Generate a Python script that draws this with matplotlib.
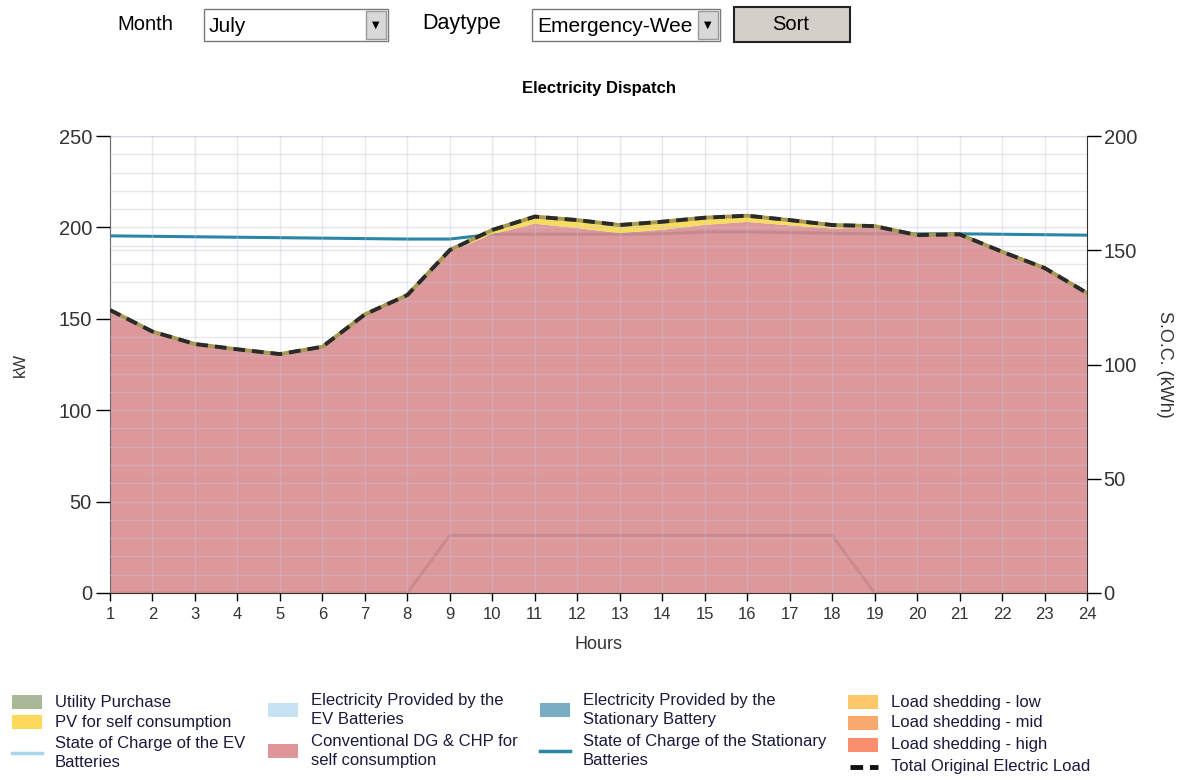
import numpy as np
import matplotlib
matplotlib.use('Agg')
from matplotlib import pyplot as plt
from matplotlib.patches import Rectangle
from matplotlib.lines import Line2D

plt.rcParams['font.family'] = ['Liberation Sans', 'DejaVu Sans']

# data
hours = list(range(1, 25))
total_load = [154.8, 143.0, 136.2, 133.3, 130.7, 134.7, 152.4, 163.0, 187.6, 198.6, 205.9, 204.0,
              201.3, 203.1, 205.3, 206.4, 204.0, 201.3, 200.7, 195.8, 196.2, 186.7, 177.8, 164.1]
dg_chp = [154.8, 143.0, 136.2, 133.3, 130.7, 134.7, 152.4, 163.0, 186.6, 196.3, 202.0, 199.6,
          196.9, 198.7, 201.4, 203.0, 201.1, 199.4, 199.8, 195.8, 196.2, 186.7, 177.8, 164.1]
pv = [0, 0, 0, 0, 0, 0, 0, 0, 1.0, 2.3, 3.9, 4.4, 4.4, 4.4, 3.9, 3.4, 2.9, 1.9, 0.9, 0, 0, 0, 0, 0]
utility = [0] * 24
ev_batt = [0] * 24
stat_batt = [0] * 24
shed_low = [0] * 24
shed_mid = [0] * 24
shed_high = [0] * 24
soc_ev = [0, 0, 0, 0, 0, 0, 0, 0, 25.2, 25.2, 25.2, 25.2, 25.2, 25.2, 25.2, 25.2, 25.2, 25.2,
          0, 0, 0, 0, 0, 0]
soc_stat = [156.3, 156.1, 155.9, 155.7, 155.5, 155.3, 155.1, 154.9, 154.9, 157.0, 157.0, 157.0,
            157.0, 157.2, 158.0, 158.0, 157.7, 157.4, 157.2, 157.2, 157.2, 157.0, 156.8, 156.6]

W, H = 1195, 780
fig = plt.figure(figsize=(W / 100, H / 100), dpi=100)

def fx(x):
    return x / W

def fy(y):
    return 1 - y / H

# axes: secondary (SOC) sits underneath the stacked areas
ax2 = fig.add_axes([fx(110), fy(593), fx(1087) - fx(110), fy(136) - fy(593)])
ax = fig.add_axes(ax2.get_position(), sharex=ax2)
ax2.yaxis.tick_right()
ax2.yaxis.set_label_position('right')
ax.patch.set_visible(False)
ax.set_zorder(ax2.get_zorder() + 1)

grid_col = '#c4c4d2'
ax2.plot(hours, soc_ev, color='#6f8595', lw=2.2)
ax2.plot(hours, soc_stat, color='#2a86a6', lw=2.2)
ax2.set_ylim(0, 200)
ax2.set_yticks([0, 50, 100, 150, 200])
ax2.grid(axis='y', color=grid_col, alpha=0.45, lw=1)
ax2.tick_params(axis='y', direction='out', length=10, width=1, labelsize=14.5,
                labelcolor='#333333', pad=2)
ax2.tick_params(axis='x', bottom=False, labelbottom=False)
ax2.set_ylabel('S.O.C. (kWh)', rotation=270, fontsize=13, labelpad=26, color='#333333')

layers = [utility, ev_batt, stat_batt, dg_chp, pv, shed_low, shed_mid, shed_high]
colors = ['#a9b897', '#c5e3f2', '#79adc4', '#d98a8e', '#f7d84a', '#fcc86a', '#f9a96b', '#f88e6c']
ax.stackplot(hours, layers, colors=colors, alpha=0.88, lw=0)
ax.plot(hours, total_load, color='#a79a55', lw=2.8, zorder=3)
ax.plot(hours, total_load, color='#2a2a2a', lw=2.8, ls=(0, (3, 1.8)), zorder=4)

ax.set_xlim(1, 24)
ax.set_ylim(0, 250)
ax.set_xticks(hours)
ax.set_yticks([0, 50, 100, 150, 200, 250])
ax.set_yticks(np.arange(0, 251, 10), minor=True)
ax.set_axisbelow(False)
ax.grid(which='both', color=grid_col, alpha=0.4, lw=1)
ax.tick_params(axis='y', which='minor', length=0)
ax.tick_params(axis='y', which='major', direction='out', length=10, width=1, labelsize=14.5,
               labelcolor='#333333', pad=3)
ax.tick_params(axis='x', direction='out', length=6, width=1, labelsize=12,
               labelcolor='#333333', pad=4)
ax.set_ylabel('kW', fontsize=12, labelpad=22, color='#333333')
ax.set_xlabel('Hours', fontsize=13, labelpad=10, color='#333333')
ax.set_title('Electricity Dispatch', fontsize=12, fontweight='bold', pad=31)

for a in (ax, ax2):
    a.spines['top'].set_visible(False)
    for s in ('left', 'right', 'bottom'):
        a.spines[s].set_color('#333333')
ax.spines['right'].set_visible(False)
ax2.spines['left'].set_visible(False)
ax2.spines['bottom'].set_visible(False)

# top controls
def box(x0, y0, x1, y1, fc, ec, lw=1.0, z=1):
    r = Rectangle((fx(x0), fy(y1)), fx(x1 - x0), (y1 - y0) / H,
                  transform=fig.transFigure, fc=fc, ec=ec, lw=lw, zorder=z)
    fig.add_artist(r)
    return r

fig.text(fx(145), fy(24), 'Month', ha='center', va='center', fontsize=14.5)
box(204, 9, 388, 41, 'white', '#7a7a7a')
box(366, 11, 386, 39, '#d8d8d8', '#9a9a9a', z=3)
fig.text(fx(376), fy(25), '▼', ha='center', va='center', fontsize=7, family='DejaVu Sans', zorder=4)
fig.text(fx(209), fy(26), 'July', ha='left', va='center', fontsize=15)

fig.text(fx(462), fy(24), 'Daytype', ha='center', va='center', fontsize=15.5)
box(532, 9, 720, 41, 'white', '#7a7a7a')
box(698, 11, 718, 39, '#d8d8d8', '#9a9a9a', z=3)
fig.text(fx(708), fy(25), '▼', ha='center', va='center', fontsize=7, family='DejaVu Sans', zorder=4)
fig.text(fx(537), fy(26), 'Emergency-Wee', ha='left', va='center', fontsize=15)

box(734, 7, 850, 42, '#d4d0c8', '#222222', lw=1.5)
fig.text(fx(791), fy(25), 'Sort', ha='center', va='center', fontsize=14.5)

# legend, four columns laid out like the original
legend_items = [
    ('Utility Purchase', 'patch', '#a9b897', 12, 702),
    ('PV for self consumption', 'patch', '#fcd95a', 12, 722),
    ('State of Charge of the EV\nBatteries', 'line', '#a6d5ec', 12, 753),
    ('Electricity Provided by the\nEV Batteries', 'patch', '#c5e3f2', 268, 710),
    ('Conventional DG & CHP for\nself consumption', 'patch', '#e0959a', 268, 751),
    ('Electricity Provided by the\nStationary Battery', 'patch', '#79adc4', 540, 710),
    ('State of Charge of the Stationary\nBatteries', 'line', '#2a86a6', 540, 751),
    ('Load shedding - low', 'patch', '#fcc86a', 848, 702),
    ('Load shedding - mid', 'patch', '#f9a96b', 848, 723),
    ('Load shedding - high', 'patch', '#f88e6c', 848, 745),
    ('Total Original Electric Load', 'dash', '#111111', 848, 767),
]
for label, kind, col, x0, yc in legend_items:
    if kind == 'patch':
        box(x0, yc - 7, x0 + 30, yc + 7, col, 'none', lw=0)
    elif kind == 'line':
        fig.add_artist(Line2D([fx(x0), fx(x0 + 30)], [fy(yc), fy(yc)], color=col, lw=2.5,
                              transform=fig.transFigure))
    else:
        fig.add_artist(Line2D([fx(x0 + 2), fx(x0 + 30)], [fy(yc), fy(yc)], color=col, lw=3.5,
                              ls=(0, (2.6, 1.4)), transform=fig.transFigure))
    fig.text(fx(x0 + 43), fy(yc), label, ha='left', va='center', fontsize=12,
             linespacing=1.4, color='#1a1a3a')

fig.savefig('out.png', dpi=100)
